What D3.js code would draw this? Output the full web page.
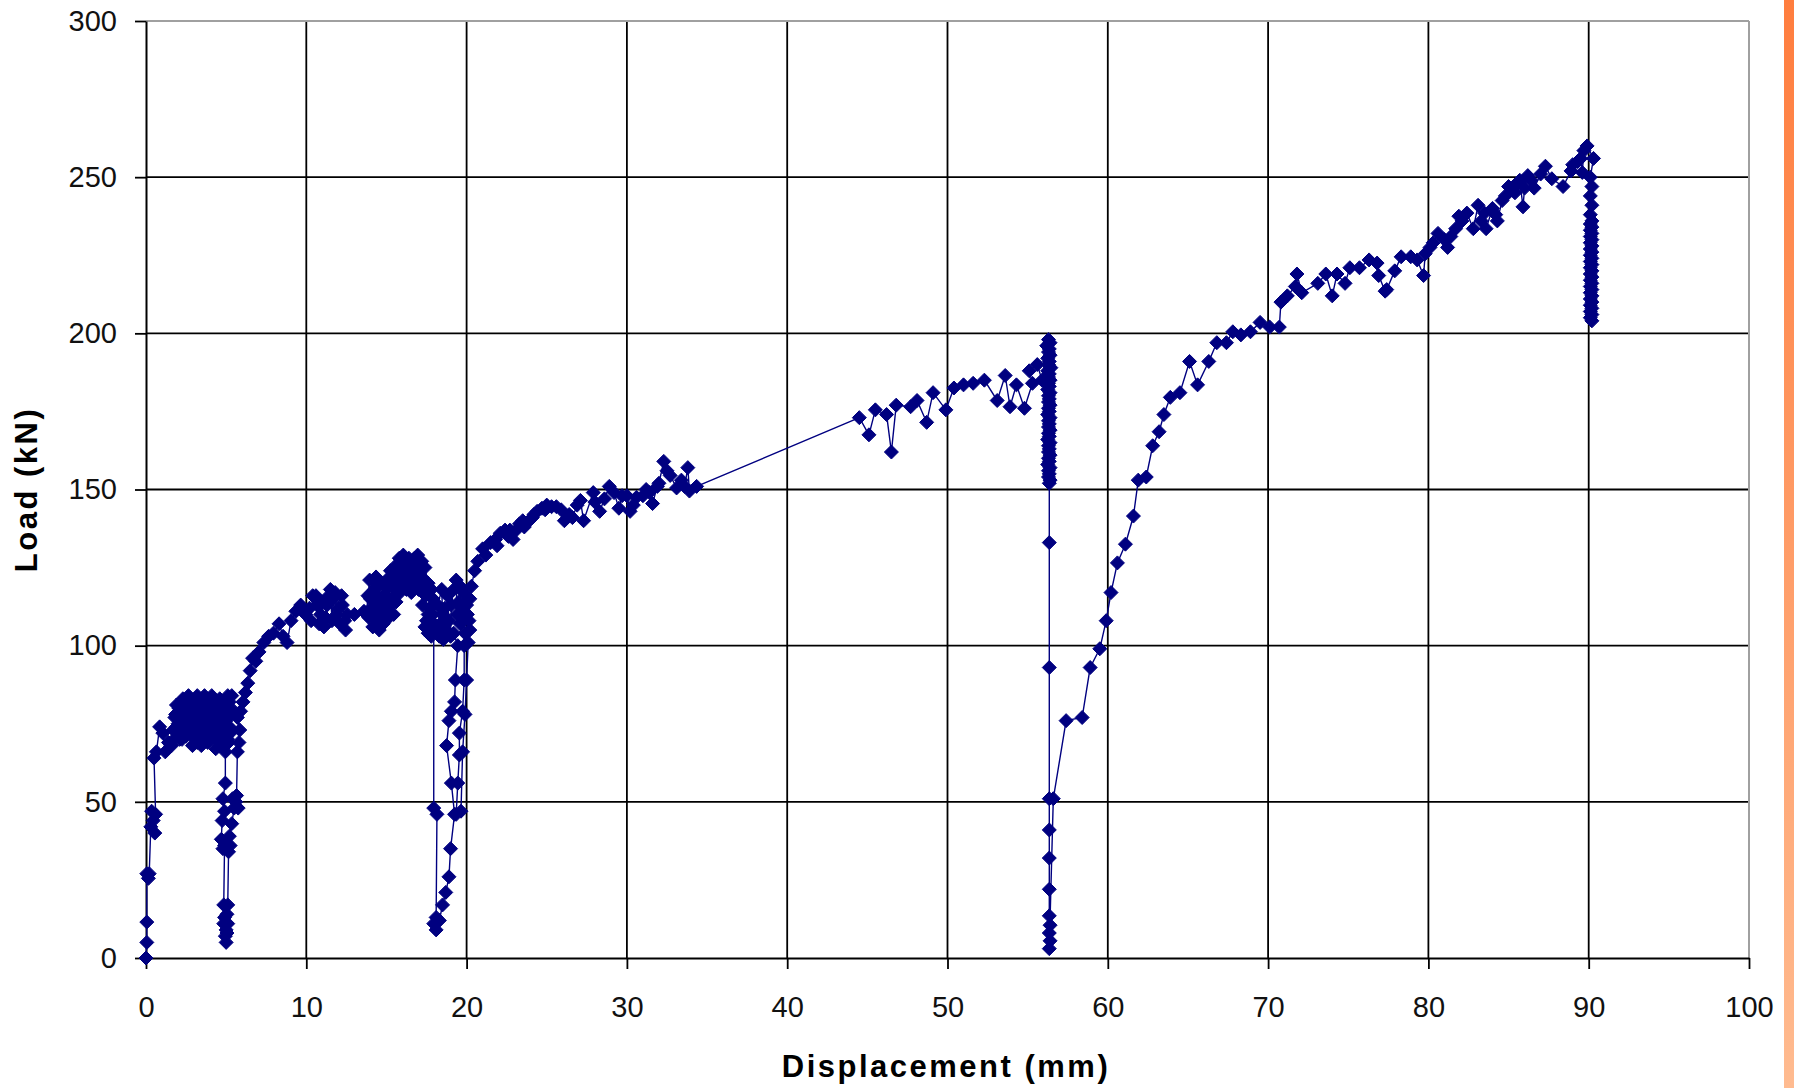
<!DOCTYPE html>
<html>
<head>
<meta charset="utf-8">
<script src="https://cdn.jsdelivr.net/npm/d3@7"></script>
<style>
  html, body { margin: 0; padding: 0; background: #fff; }
  svg { display: block; }
</style>
</head>
<body>
<svg id="chart" width="1794" height="1088"></svg>
<script>
// ---------- DATA (displacement mm, load kN) ----------
const xTicks = [0, 10, 20, 30, 40, 50, 60, 70, 80, 90, 100];
const yTicks = [0, 50, 100, 150, 200, 250, 300];
const xTitle = "Displacement (mm)";
const yTitle = "Load (kN)";

const initialLoading = [[0,0],[0.05,5],[0.05,11.5],[0.05,27],[0.15,25.5],[0.2,27],[0.3,42],[0.35,47],[0.45,44],[0.55,40],[0.6,46],[0.5,64],[0.65,66],[0.85,74],[1.05,72],[1.2,66],[1.4,69]];
const cluster1 = [[1.6,68],[1.7,73],[1.8,77],[1.9,81],[2.0,75],[2.1,70],[2.2,79],[2.3,83],[2.4,76],[2.5,71],[2.55,80],[2.65,84],[2.75,77],[2.85,72],[2.9,68],[3.0,75],[3.1,81],[3.2,84],[3.25,78],[3.35,72],[3.45,68],[3.5,76],[3.6,82],[3.7,79],[3.75,73],[3.85,69],[3.95,74],[4.0,80],[4.1,84],[4.2,77],[4.25,71],[4.35,67],[4.45,73],[4.5,79],[4.6,83],[4.7,76],[4.75,70],[4.85,68],[4.9,75],[5.0,81],[5.1,84],[5.2,78],[5.25,72],[5.15,69],[5.05,74],
  [5.2,82],[5.1,77],[5.0,71],[4.9,79],[4.8,73],[4.65,80],[4.55,74],[4.4,70],[4.3,78],[4.15,82],[4.05,75],[3.9,71],[3.8,78],[3.65,84],[3.55,72],[3.4,79],[3.3,83],[3.15,74],[3.05,70],[2.95,80],[2.8,82],[2.7,74],[2.6,78],[2.45,82],[2.35,73],[2.25,70],[2.1,77],[1.95,72],[1.85,78],[1.75,70],
  [1.9,74],[2.05,80],[2.2,72],[2.4,80],[2.6,72],[2.8,78],[3.0,82],[3.2,69],[3.4,74],[3.6,78],[3.8,82],[4.0,70],[4.2,81],[4.4,76],[4.6,68],[4.8,80],[5.0,76],[5.2,74],[5.3,80],[5.35,84],[5.1,70]];
const cycle1 = [[4.95,66],[4.95,56],[4.8,51],[4.9,47],[4.75,44],[4.7,38],[4.8,35],[4.9,36],[4.85,17],[4.9,13],[4.85,11],[5.0,9],[4.95,7],[5.0,5],[5.05,8],[5.1,11],[5.05,14],[5.1,17],[5.15,34],[5.25,36],[5.2,39],[5.35,43],[5.5,48],[5.4,51],[5.6,50],[5.75,48],[5.65,52],[5.7,66],[5.8,69],[5.85,73],[5.7,77],[5.9,79],[6.05,82],[6.2,85],[6.35,88],[6.5,92],[6.65,96],[6.85,95],[7.05,98],[7.35,101],[7.65,103],[7.95,104],[8.3,107],[8.55,103],[8.8,101],[9.05,108],[9.35,111],[9.65,113],[9.95,110],[10.2,112],[10.3,108],[10.4,116],[10.6,116],[10.65,113],[10.8,107],[10.9,110],[11.0,114],[11.1,106],[11.2,109],[11.3,113],[11.4,116],[11.5,118],[11.6,108],[11.7,115],[11.8,117],[11.9,110],[12.0,112],[12.1,107],[12.2,116],[12.25,113],[12.4,108],[12.45,105],[12.55,110],[13.0,110],[13.6,111]];
const cluster2 = [[13.75,110],[13.85,116],[13.95,121],[14.05,112],[14.15,106],[14.25,118],[14.35,122],[14.45,109],[14.55,105],[14.65,114],[14.75,120],[14.85,116],[14.95,108],[15.05,112],[15.15,119],[15.25,124],[15.35,115],[15.45,110],[15.55,118],[15.65,126],[15.75,121],[15.85,117],[15.95,125],[16.05,129],[16.15,123],[16.25,118],[16.35,126],[16.45,121],[16.55,117],[16.65,124],[16.75,128],[16.85,122],[16.95,129],[17.05,124],[17.15,119],[17.25,113],[17.35,121],[17.45,116],[17.5,108],[17.6,104],[17.7,112],[17.8,118],[17.9,110],[17.95,105],
  [17.9,115],[17.75,108],[17.6,120],[17.4,125],[17.2,127],[17.0,121],[16.85,126],[16.7,119],[16.5,127],[16.3,122],[16.1,126],[15.9,121],[15.7,124],[15.5,116],[15.3,121],[15.1,115],[14.9,119],[14.7,111],[14.5,116],[14.3,112],[14.1,117],[13.9,109],
  [14.0,115],[14.2,109],[14.4,120],[14.6,110],[14.8,107],[15.0,121],[15.2,110],[15.4,122],[15.6,114],[15.8,128],[16.0,119],[16.2,125],[16.4,128],[16.6,120],[16.8,126],[17.0,118],[17.2,122],[17.4,106],[17.6,110],[17.8,103],[17.95,107]];
const cycle2 = [[17.95,48],[18.15,46],[18.1,13],[17.95,11],[18.1,9],[18.3,12],[18.5,17],[18.7,21],[18.9,26],[19.0,35],[19.25,46],[19.05,56],[18.75,68],[18.9,76],[19.05,79],[19.25,82],[19.3,89],[19.45,100],[19.2,104],[18.55,102],[18.3,103],[18.35,107],[18.2,113],[18.45,118],[18.5,110],[18.65,112],[18.7,105],[18.8,116],[18.9,108],[19.0,103],[19.05,113],[19.2,118],[19.35,121],[19.4,110],[19.5,114],[19.6,107],[19.6,119],[19.7,112],[19.8,117],[19.8,110],[19.9,104],[19.85,100],[19.85,89],[19.75,79],[19.55,72],[19.55,65],[19.45,56],[19.35,46],[19.65,47],[19.75,66],[19.9,78],[20.0,89],[20.1,101],[20.2,105],[20.05,110],[20.0,113],[20.15,108],[20.2,115],[20.3,119],[20.5,124],[20.7,127],[21.0,131]];
const hardening1 = [[21.2,129],[21.5,133],[21.8,134],[21.9,132],[22.1,136],[22.4,137],[22.6,135],[22.7,137],[22.9,134],[23.1,137],[23.3,139],[23.5,140],[23.6,138],[23.9,140],[24.1,141],[24.2,142],[24.4,143],[24.7,144],[24.9,143.5],[25.0,145],[25.3,144.5],[25.6,144.5],[25.9,143.5],[26.1,140],[26.4,142],[26.6,141],[26.9,145],[27.1,146.5],[27.3,140],[27.9,149],[28.0,146],[28.3,143],[28.6,147],[28.9,151],[29.2,149],[29.5,144],[29.7,148],[30.0,148],[30.2,143],[30.4,145],[30.6,147.5],[31.0,148],[31.2,150],[31.4,149],[31.6,145.5],[31.9,151],[32.0,152],[32.3,159],[32.5,156],[32.7,154.5],[33.1,150.5],[33.4,153],[33.6,151],[33.8,157],[33.9,149.5],[34.35,151]];
const hardening2 = [[44.5,173],[45.1,167.5],[45.5,175.5],[46.2,174],[46.5,162],[46.8,177],[47.7,176.5],[48.1,178.5],[48.7,171.5],[49.1,181],[49.9,175.5],[50.4,182.5],[51.0,183.5],[51.6,184],[52.3,185],[53.1,178.5],[53.6,186.5],[53.9,176.5],[54.3,183.5],[54.8,176],[55.3,184],[55.1,188],[55.6,190],[55.9,185],[56.2,196]];
const drop56 = [[56.3,198],[56.4,197],[56.2,196],[56.35,195],[56.3,194],[56.4,193],[56.25,192],[56.35,191],[56.3,190],[56.45,189],[56.25,188],[56.35,187],[56.3,186],[56.4,185],[56.3,184],[56.35,183],[56.25,182],[56.4,181],[56.3,180],[56.35,179],[56.3,178],[56.4,177],[56.3,176],[56.35,175],[56.25,174],[56.4,173],[56.3,172],[56.35,171],[56.3,170],[56.4,169],[56.3,168],[56.35,167],[56.25,166],[56.4,165],[56.3,164],[56.35,163],[56.3,162],[56.4,161],[56.3,160],[56.35,159],[56.25,158],[56.4,157],[56.3,156],[56.35,155],[56.3,154],[56.4,153],[56.35,152],
  [56.35,133],[56.35,93],[56.35,51],[56.35,41],[56.35,32],[56.35,22],[56.35,13.5],[56.4,10.5],[56.35,8],[56.4,5.5],[56.35,3]];
const reloading = [[56.6,51],[57.4,76],[58.4,77],[58.9,93],[59.5,99],[59.9,108],[60.2,117],[60.6,126.5],[61.1,132.5],[61.6,141.5],[61.9,153],[62.4,154],[62.8,164],[63.2,168.5],[63.5,174],[63.9,179.5],[64.5,181],[65.1,191],[65.6,183.5],[66.3,191],[66.8,197],[67.4,197],[67.8,200.5],[68.3,199.5],[68.9,200.5],[69.5,203.5],[70.1,202],[70.7,202],[70.8,210],[71.2,212],[71.7,215],[71.8,219],[72.1,213],[73.1,216],[73.6,219],[74.0,212],[74.3,219],[74.8,216],[75.1,221],[75.7,221],[76.3,223.5],[76.8,222.5],[76.9,218.5],[77.3,213.5],[77.4,214],[77.9,220],[78.3,224.5],[78.9,224.5],[79.3,223.5],[79.7,218.5],[79.8,225.5],[80.1,227.5],[80.3,229],[80.6,232],[81.0,230],[81.2,227.5],[81.4,231],[81.7,233.5],[81.9,237.5],[82.1,236],[82.4,238.5],[82.8,233.5],[83.1,241],[83.3,236],[83.5,238.5],[83.6,233.5],[84.0,240],[84.2,238],[84.3,236],[84.6,242.5],[84.8,244],[85.0,247],[85.2,246],[85.4,245],[85.5,248],[85.7,249],[85.9,240.5],[86.0,246.5],[86.2,250.5],[86.4,249],[86.6,246.5],[87.0,251],[87.3,253.5],[87.7,249.5],[88.4,247],[88.9,252],[89.0,254],[89.3,255],[89.5,256],[89.6,251.5],[89.7,258.5],[89.9,260],[90.3,256],[90.1,250]];
const drop90 = [[90.2,247],[90.1,244],[90.2,241],[90.1,238],[90.2,236],[90.1,235],[90.2,234],[90.1,233],[90.2,232],[90.1,231],[90.2,230],[90.1,229],[90.2,228],[90.1,227],[90.2,226],[90.1,225],[90.2,224],[90.1,223],[90.2,222],[90.1,221],[90.2,220],[90.1,219],[90.2,218],[90.1,217],[90.2,216],[90.1,215],[90.2,214],[90.1,213],[90.2,212],[90.1,211],[90.2,210],[90.1,209],[90.2,208],[90.1,207],[90.2,206],[90.1,205],[90.2,204]];

const series = [].concat(initialLoading, cluster1, cycle1, cluster2, cycle2, hardening1, hardening2, drop56, reloading, drop90);

// ---------- LAYOUT ----------
const svg = d3.select("#chart");
const W = 1794, H = 1088;
const plot = { left: 146, right: 1749, top: 21, bottom: 958 };
const x = d3.scaleLinear().domain([0, 100]).range([plot.left, plot.right]);
const y = d3.scaleLinear().domain([0, 300]).range([plot.bottom, plot.top]);
const FONT = "'Liberation Sans', Arial, sans-serif";

// orange strip on the right
const defs = svg.append("defs");
const grad = defs.append("linearGradient").attr("id", "strip").attr("x1", 0).attr("y1", 0).attr("x2", 0).attr("y2", 1);
grad.append("stop").attr("offset", 0).attr("stop-color", "#ff7d3e");
grad.append("stop").attr("offset", 1).attr("stop-color", "#ffbb90");
svg.append("rect").attr("x", 1784).attr("y", 0).attr("width", W - 1784).attr("height", H).attr("fill", "url(#strip)");

// grid lines
const grid = svg.append("g");
grid.selectAll("line.v").data(xTicks.filter(d => d > 0 && d < 100)).enter().append("line")
  .attr("x1", d => x(d)).attr("x2", d => x(d)).attr("y1", plot.top).attr("y2", plot.bottom)
  .attr("stroke", "#000").attr("stroke-width", 1.8);
grid.selectAll("line.h").data(yTicks.filter(d => d > 0 && d < 300)).enter().append("line")
  .attr("x1", plot.left).attr("x2", plot.right).attr("y1", d => y(d)).attr("y2", d => y(d))
  .attr("stroke", "#000").attr("stroke-width", 1.8);

// top and right frame (grey)
svg.append("line").attr("x1", plot.left).attr("x2", plot.right).attr("y1", y(300)).attr("y2", y(300)).attr("stroke", "#a0a0a0").attr("stroke-width", 2);
svg.append("line").attr("x1", x(100)).attr("x2", x(100)).attr("y1", plot.top).attr("y2", plot.bottom).attr("stroke", "#a0a0a0").attr("stroke-width", 2);

// axes
const xAxis = d3.axisBottom(x).tickValues(xTicks).tickSize(11).tickSizeOuter(0).tickPadding(27).tickFormat(d3.format("d"));
const yAxis = d3.axisLeft(y).tickValues(yTicks).tickSize(11).tickSizeOuter(0).tickPadding(18).tickFormat(d3.format("d"));
const gx = svg.append("g").attr("transform", `translate(0,${plot.bottom})`).call(xAxis);
const gy = svg.append("g").attr("transform", `translate(${plot.left},0)`).call(yAxis);
[gx, gy].forEach(g => {
  g.select(".domain").attr("stroke", "#000").attr("stroke-width", 2);
  g.selectAll(".tick line").attr("stroke", "#000").attr("stroke-width", 1.8);
  g.selectAll(".tick text").attr("fill", "#111").style("font-family", FONT).style("font-size", "29px");
});

// axis titles
svg.append("text").attr("x", 946).attr("y", 1077).attr("text-anchor", "middle")
  .style("font-family", FONT).style("font-size", "31px").style("font-weight", "bold").style("letter-spacing", "2.5px")
  .text(xTitle);
svg.append("text").attr("transform", `translate(37,${(plot.top + plot.bottom) / 2}) rotate(-90)`).attr("text-anchor", "middle")
  .style("font-family", FONT).style("font-size", "31px").style("font-weight", "bold").style("letter-spacing", "2.5px")
  .text(yTitle);

// series line
const line = d3.line().x(d => x(d[0])).y(d => y(d[1]));
svg.append("path").datum(series).attr("d", line).attr("fill", "none").attr("stroke", "#000080").attr("stroke-width", 1.4);

// diamond markers
const r = 7;
const diamond = `M0,${-r}L${r},0L0,${r}L${-r},0Z`;
svg.append("g").selectAll("path").data(series).enter().append("path")
  .attr("d", diamond)
  .attr("transform", d => `translate(${x(d[0])},${y(d[1])})`)
  .attr("fill", "#000080")
  .attr("stroke", "#000080")
  .attr("stroke-width", 1);
</script>
</body>
</html>
